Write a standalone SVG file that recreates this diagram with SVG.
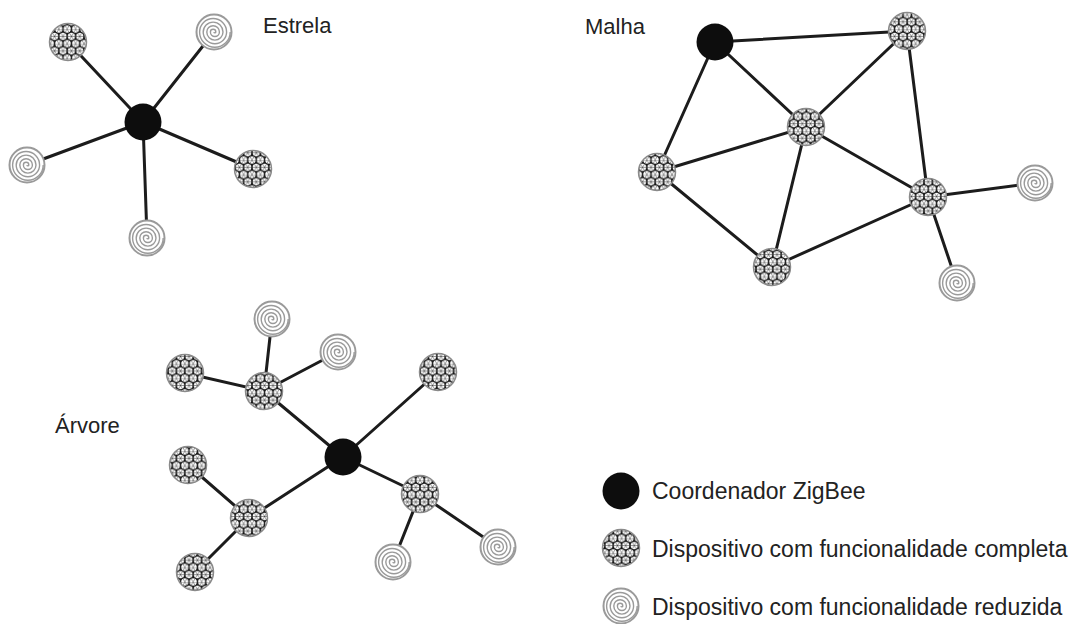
<svg xmlns="http://www.w3.org/2000/svg" xmlns:xlink="http://www.w3.org/1999/xlink" width="1075" height="624" viewBox="0 0 1075 624">
<style>
.edge{stroke:#1c1c1c;stroke-width:3;stroke-linecap:round}
.coord{fill:#0d0d0d}
.ffd{fill:url(#mesh);stroke:#8a8a8a;stroke-width:1.5}
.lbl{font-family:"Liberation Sans",Arial,sans-serif;font-size:22px;fill:#222}
.leg{font-family:"Liberation Sans",Arial,sans-serif;font-size:23px;fill:#222}
</style>
<defs>
<pattern id="mesh" patternUnits="userSpaceOnUse" width="8.4" height="14.549">
<rect width="8.4" height="14.549" fill="#161616"/>
<g fill="#fff">
<circle cx="0" cy="0" r="3.55"/><circle cx="8.4" cy="0" r="3.55"/><circle cx="4.2" cy="7.275" r="3.55"/><circle cx="0" cy="14.549" r="3.55"/><circle cx="8.4" cy="14.549" r="3.55"/>
</g>
<path d="M0 0H8.4M0 7.275H8.4M0 0L8.4 14.549M8.4 0L0 14.549" stroke="#161616" stroke-width="0.45" fill="none"/>
</pattern>
<g id="rfd">
<circle r="17.5" fill="#fff" stroke="#9a9a9a" stroke-width="2"/>
<path d="M0,0 A0.9,0.9 0 0 0 1.8,0 A2.7,2.7 0 0 0 -3.6,0 A4.5,4.5 0 0 0 5.4,0 A6.3,6.3 0 0 0 -7.2,0 A8.1,8.1 0 0 0 9,0 A9.9,9.9 0 0 0 -10.8,0 A11.7,11.7 0 0 0 12.6,0 A13.5,13.5 0 0 0 -14.4,0 A15.3,15.3 0 0 0 16.2,0" fill="none" stroke="#9a9a9a" stroke-width="1.4"/>
</g>
</defs>
<rect width="1075" height="624" fill="#fff"/>

<g id="connectors">
<line class="edge" x1="143" y1="122" x2="68" y2="42"/>
<line class="edge" x1="143" y1="122" x2="214" y2="32"/>
<line class="edge" x1="143" y1="122" x2="27" y2="165"/>
<line class="edge" x1="143" y1="122" x2="253" y2="169"/>
<line class="edge" x1="143" y1="122" x2="147" y2="238"/>
<line class="edge" x1="715" y1="42" x2="907" y2="31"/>
<line class="edge" x1="715" y1="42" x2="806" y2="127"/>
<line class="edge" x1="715" y1="42" x2="657" y2="172"/>
<line class="edge" x1="907" y1="31" x2="806" y2="127"/>
<line class="edge" x1="907" y1="31" x2="928" y2="197"/>
<line class="edge" x1="806" y1="127" x2="657" y2="172"/>
<line class="edge" x1="806" y1="127" x2="928" y2="197"/>
<line class="edge" x1="806" y1="127" x2="772" y2="267"/>
<line class="edge" x1="657" y1="172" x2="772" y2="267"/>
<line class="edge" x1="772" y1="267" x2="928" y2="197"/>
<line class="edge" x1="928" y1="197" x2="1035" y2="183"/>
<line class="edge" x1="928" y1="197" x2="957" y2="283"/>
<line class="edge" x1="343" y1="457" x2="264" y2="391"/>
<line class="edge" x1="343" y1="457" x2="438" y2="372"/>
<line class="edge" x1="343" y1="457" x2="249" y2="518"/>
<line class="edge" x1="343" y1="457" x2="420" y2="494"/>
<line class="edge" x1="264" y1="391" x2="272" y2="319"/>
<line class="edge" x1="264" y1="391" x2="338" y2="352"/>
<line class="edge" x1="264" y1="391" x2="185" y2="373"/>
<line class="edge" x1="249" y1="518" x2="188" y2="465"/>
<line class="edge" x1="249" y1="518" x2="195" y2="572"/>
<line class="edge" x1="420" y1="494" x2="393" y2="562"/>
<line class="edge" x1="420" y1="494" x2="498" y2="547"/>
</g>

<g id="e-coord"><circle class="coord" cx="143" cy="122" r="18.5"/></g>
<g id="e-ffd1"><circle class="ffd" cx="68" cy="42" r="18.5"/></g>
<g id="e-rfd1"><use xlink:href="#rfd" href="#rfd" x="214" y="32"/></g>
<g id="e-rfd2"><use xlink:href="#rfd" href="#rfd" x="27" y="165"/></g>
<g id="e-ffd2"><circle class="ffd" cx="253" cy="169" r="18.5"/></g>
<g id="e-rfd3"><use xlink:href="#rfd" href="#rfd" x="147" y="238"/></g>

<g id="m-coord"><circle class="coord" cx="715" cy="42" r="18.5"/></g>
<g id="m-ffd1"><circle class="ffd" cx="907" cy="31" r="18.5"/></g>
<g id="m-ffd2"><circle class="ffd" cx="806" cy="127" r="18.5"/></g>
<g id="m-ffd3"><circle class="ffd" cx="657" cy="172" r="18.5"/></g>
<g id="m-ffd4"><circle class="ffd" cx="928" cy="197" r="18.5"/></g>
<g id="m-ffd5"><circle class="ffd" cx="772" cy="267" r="18.5"/></g>
<g id="m-rfd1"><use xlink:href="#rfd" href="#rfd" x="1035" y="183"/></g>
<g id="m-rfd2"><use xlink:href="#rfd" href="#rfd" x="957" y="283"/></g>

<g id="a-coord"><circle class="coord" cx="343" cy="457" r="18.5"/></g>
<g id="a-ffd1"><circle class="ffd" cx="264" cy="391" r="18.5"/></g>
<g id="a-rfd1"><use xlink:href="#rfd" href="#rfd" x="272" y="319"/></g>
<g id="a-rfd2"><use xlink:href="#rfd" href="#rfd" x="338" y="352"/></g>
<g id="a-ffd2"><circle class="ffd" cx="185" cy="373" r="18.5"/></g>
<g id="a-ffd3"><circle class="ffd" cx="438" cy="372" r="18.5"/></g>
<g id="a-ffd4"><circle class="ffd" cx="249" cy="518" r="18.5"/></g>
<g id="a-ffd5"><circle class="ffd" cx="188" cy="465" r="18.5"/></g>
<g id="a-ffd6"><circle class="ffd" cx="195" cy="572" r="18.5"/></g>
<g id="a-ffd7"><circle class="ffd" cx="420" cy="494" r="18.5"/></g>
<g id="a-rfd3"><use xlink:href="#rfd" href="#rfd" x="393" y="562"/></g>
<g id="a-rfd4"><use xlink:href="#rfd" href="#rfd" x="498" y="547"/></g>

<g id="titles">
<text class="lbl" x="263" y="33">Estrela</text>
<text class="lbl" x="585" y="34">Malha</text>
<text class="lbl" x="55" y="433">Árvore</text>
</g>

<g id="legend-coord"><circle class="coord" cx="621" cy="491" r="18.5"/><text class="leg" x="652" y="499">Coordenador ZigBee</text></g>
<g id="legend-ffd"><circle class="ffd" cx="621" cy="548" r="18.5"/><text class="leg" x="652" y="557">Dispositivo com funcionalidade completa</text></g>
<g id="legend-rfd"><use xlink:href="#rfd" href="#rfd" x="621" y="606"/><text class="leg" x="652" y="615">Dispositivo com funcionalidade reduzida</text></g>
</svg>
